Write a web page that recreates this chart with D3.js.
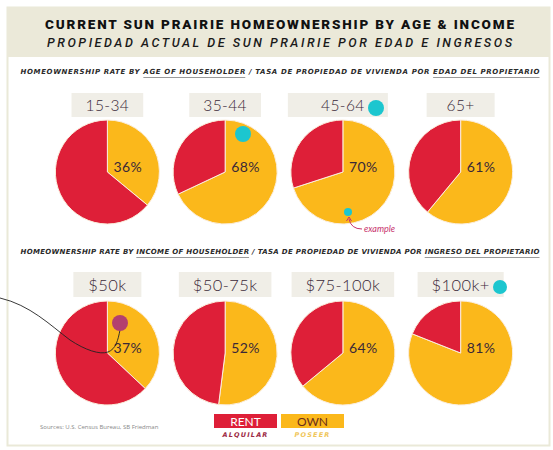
<!DOCTYPE html>
<html><head><meta charset="utf-8">
<script src="https://cdn.jsdelivr.net/npm/d3@7"></script>
<style>html,body{margin:0;padding:0;background:#fff;}svg{display:block;}</style>
</head><body>
<script>
const ageCategories = ["15-34", "35-44", "45-64", "65+"];
const ageOwn = [36, 68, 70, 61];
const incomeCategories = ["$50k", "$50-75k", "$75-100k", "$100k+"];
const incomeOwn = [37, 52, 64, 81];
const legendLabels = ["RENT", "OWN"];
const legendLabelsEs = ["ALQUILAR", "POSEER"];
const titleLines = ["CURRENT SUN PRAIRIE HOMEOWNERSHIP BY AGE & INCOME", "PROPIEDAD ACTUAL DE SUN PRAIRIE POR EDAD E INGRESOS"];
const subtitle1 = ["HOMEOWNERSHIP RATE BY ", "AGE OF HOUSEHOLDER", " / TASA DE PROPIEDAD DE VIVIENDA POR ", "EDAD DEL PROPIETARIO"];
const subtitle2 = ["HOMEOWNERSHIP RATE BY ", "INCOME OF HOUSEHOLDER", " / TASA DE PROPIEDAD DE VIVIENDA POR ", "INGRESO DEL PROPIETARIO"];
const sourceText = "Sources: U.S. Census Bureau, SB Friedman";

const W = 553, H = 450;
const RED = "#de1f38", YEL = "#fbb81b", LABEL = "#3a2838";
const svg = d3.select("body").append("svg").attr("width", W).attr("height", H);

// frame
svg.append("rect").attr("x", 7.5).attr("y", 7.5).attr("width", 542).attr("height", 438)
  .attr("fill", "#fff").attr("stroke", "#eae9d8").attr("stroke-width", 2);
svg.append("rect").attr("x", 7).attr("y", 7).attr("width", 543).attr("height", 50).attr("fill", "#ebe9d9");

svg.append("text").attr("x", 279.5).attr("y", 29).attr("text-anchor", "middle")
  .attr("font-family", "Roboto").attr("font-weight", 900).attr("font-size", 13.5)
  .attr("textLength", 469).attr("lengthAdjust", "spacing").attr("fill", "#111").text(titleLines[0]);
svg.append("text").attr("x", 279.5).attr("y", 46.5).attr("text-anchor", "middle")
  .attr("font-family", "Roboto").attr("font-style", "italic").attr("font-weight", 500).attr("font-size", 12.5)
  .attr("textLength", 465).attr("lengthAdjust", "spacing").attr("fill", "#1a1a1a").text(titleLines[1]);

function subtitle(parts, y) {
  const full = parts.join("");
  const t = svg.append("text").attr("x", 280).attr("y", y).attr("text-anchor", "middle")
    .attr("font-family", "DejaVu Sans").attr("font-weight", "bold").attr("font-style", "italic")
    .attr("font-size", 7).attr("textLength", 519).attr("lengthAdjust", "spacing")
    .attr("fill", "#2a2a2a").text(full);
  const node = t.node();
  let idx = 0;
  parts.forEach((p, i) => {
    if (i % 2 === 1) {
      const a = node.getExtentOfChar(idx), b = node.getExtentOfChar(idx + p.length - 1);
      svg.append("line").attr("x1", a.x).attr("x2", b.x + b.width).attr("y1", y + 3.5).attr("y2", y + 3.5)
        .attr("stroke", "#9a9a9a").attr("stroke-width", 1);
    }
    idx += p.length;
  });
}
subtitle(subtitle1, 74);
subtitle(subtitle2, 254);

const x = d3.scaleBand().domain(d3.range(4)).range([48.5, 519.5]);
const cxOf = i => x(i) + x.bandwidth() / 2;
const R = 52;
const pie = d3.pie().sort(null).value(d => d.v);
const arc = d3.arc().innerRadius(0).outerRadius(R);

function row(cats, own, cy, labelY, labelSize, boxY, boxH) {
  cats.forEach((c, i) => {
    const cx = cxOf(i);
    const g = svg.append("g");
    const lt = g.append("text").attr("x", cx).attr("y", labelY).attr("text-anchor", "middle")
      .attr("font-family", "Lato").attr("font-weight", 300).attr("font-size", labelSize).attr("fill", LABEL)
      .attr("letter-spacing", 0.4).text(c);
    const tw = lt.node().getComputedTextLength();
    let half = Math.max(34, tw / 2 + 14);
    let bx = cx - half, bw = half * 2;
    if (c === "45-64") { bx = cx - 55; bw = 100; }
    g.insert("rect", "text").attr("x", bx).attr("y", boxY).attr("width", bw).attr("height", boxH).attr("fill", "#f0eee7");
    const data = [{k: "own", v: own[i]}, {k: "rent", v: 100 - own[i]}];
    g.append("g").attr("transform", `translate(${cx},${cy})`).selectAll("path").data(pie(data)).join("path")
      .attr("d", arc).attr("fill", d => d.data.k === "own" ? YEL : RED)
      .attr("stroke", "#fbeedd").attr("stroke-width", 1);
    g.append("text").attr("x", cx + 6).attr("y", cy - 6).attr("dominant-baseline", "central")
      .attr("font-family", "Lato").attr("font-weight", 400).attr("font-size", 14).attr("fill", LABEL).attr("letter-spacing", 0.4)
      .text(own[i] + "%");
  });
}
row(ageCategories, ageOwn, 172, 111, 15.5, 93, 24);
row(incomeCategories, incomeOwn, 353, 290.5, 16.5, 272, 25);

// decorative dots
const TEAL = "#1cc6cf";
svg.append("circle").attr("cx", 243).attr("cy", 134).attr("r", 8).attr("fill", TEAL);
svg.append("circle").attr("cx", 376).attr("cy", 108).attr("r", 8).attr("fill", TEAL);
svg.append("circle").attr("cx", 348).attr("cy", 212).attr("r", 4).attr("fill", TEAL);
svg.append("circle").attr("cx", 500).attr("cy", 287).attr("r", 7).attr("fill", TEAL);
// example annotation
svg.append("path").attr("d", "M362,229 Q351,229 349,219").attr("fill", "none").attr("stroke", "#c8336e").attr("stroke-width", 1);
svg.append("path").attr("d", "M346.5,221 L349,217 L351.5,221").attr("fill", "none").attr("stroke", "#c8336e").attr("stroke-width", 1);
svg.append("text").attr("x", 364).attr("y", 232).attr("font-family", "Lato").attr("font-style", "italic")
  .attr("font-size", 9).attr("fill", "#c8336e").text("example");
// hand-drawn line + dot
svg.append("path").attr("d", "M0,298 C30,305 50,325 70,340 C85,350 100,355 108,352 C116,349 118,340 120,330")
  .attr("fill", "none").attr("stroke", "#222").attr("stroke-width", 0.9);
svg.append("circle").attr("cx", 120).attr("cy", 323).attr("r", 8).attr("fill", "#b3406f");

// legend
const legColors = [RED, YEL], legText = ["#fff", "#6b2d1a"], legEs = ["#9c2a44", "#f0c65a"];
const lx = [214, 281];
legendLabels.forEach((l, i) => {
  svg.append("rect").attr("x", lx[i]).attr("y", 414).attr("width", 63).attr("height", 14).attr("fill", legColors[i]);
  svg.append("text").attr("x", lx[i] + 31.5).attr("y", 425.5).attr("text-anchor", "middle")
    .attr("font-family", "Lato").attr("font-size", 12).attr("fill", legText[i]).text(l);
  svg.append("text").attr("x", lx[i] + 31.5).attr("y", 437).attr("text-anchor", "middle")
    .attr("font-family", "DejaVu Sans").attr("font-weight", "bold").attr("font-style", "italic")
    .attr("font-size", 6.5).attr("letter-spacing", 1.2).attr("fill", legEs[i]).text(legendLabelsEs[i]);
});
svg.append("text").attr("x", 40).attr("y", 429).attr("font-family", "Open Sans").attr("font-size", 6)
  .attr("fill", "#888").text(sourceText);
</script>
</body></html>
